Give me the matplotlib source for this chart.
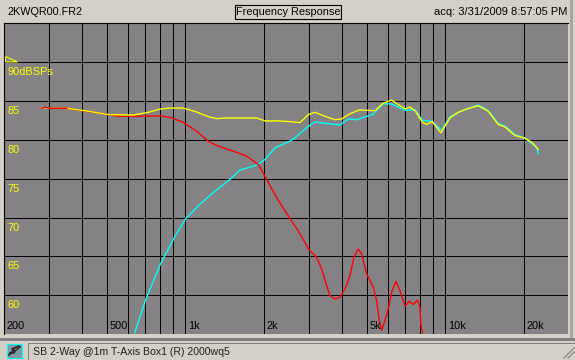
import matplotlib
matplotlib.use('Agg')
import matplotlib.pyplot as plt
from matplotlib.patches import Rectangle, Polygon

plt.rcParams['font.family'] = ['Liberation Sans', 'DejaVu Sans']

W, H = 575, 360

# curves: frequency (Hz), level (dB)
yellow_f = [281, 350, 417, 506, 631, 710, 799, 873, 982, 1106, 1226, 1320, 1442, 1881, 2025, 2279, 2527, 2761,
            2972, 3154, 3445, 3764, 3994, 4236, 4655, 5364, 5775, 6217, 6693, 7038, 7313, 7689, 8157, 8476, 8913,
            9623, 9970, 10420, 11220, 12080, 13400, 14640, 15990, 16960, 18530, 20250, 21480, 22790]
yellow_db = [84.06, 84.06, 83.72, 83.25, 83.2, 83.5, 83.97, 84.1, 84.1, 83.59, 82.99, 82.74, 82.82, 82.82, 82.44,
             82.44, 82.35, 82.22, 83.25, 83.55, 83.03, 82.6, 82.69, 83.25, 83.85, 83.76, 84.74, 85.13, 84.4, 83.97,
             84.23, 83.68, 82.26, 82.0, 82.35, 80.9, 81.75, 82.82, 83.55, 83.97, 84.4, 83.68, 81.97, 81.67, 80.56,
             80.21, 79.7, 78.76]

cyan_f = [639, 702, 799, 907, 1000, 1139, 1281, 1485, 1623, 1881, 2025, 2212, 2527, 2641, 2972, 3154, 3445, 3935,
          4236, 4560, 4909, 5239, 5775, 6217, 7038, 7644, 8157, 8858, 9680, 10420, 11220, 12080, 13400, 14640,
          15990, 16960, 18530, 20250, 22500, 22790]
cyan_db = [55.17, 59.32, 63.89, 67.44, 69.79, 71.71, 73.21, 74.91, 76.11, 76.75, 77.48, 78.97, 79.83, 80.26, 81.75,
           82.31, 82.14, 81.92, 82.69, 82.6, 82.95, 83.25, 84.66, 84.62, 83.8, 83.89, 82.52, 82.39, 81.24, 82.95,
           83.55, 83.97, 84.49, 83.76, 82.09, 81.75, 80.68, 80.21, 79.06, 78.25]

red_f = [281, 289, 302, 350, 393, 443, 506, 557, 799, 873, 982, 1106, 1226, 1320, 1530, 1721, 1909, 2055, 2246,
         2417, 2720, 2989, 3200, 3345, 3496, 3601, 3764, 3935, 4113, 4298, 4453, 4628, 4767, 4983, 5287, 5443, 5557,
         5689, 5860, 6036, 6217, 6461, 6693, 6997, 7270, 7534, 7825, 7990, 8060, 8180]
red_db = [84.06, 84.19, 84.06, 84.06, 83.8, 83.55, 83.25, 83.03, 83.08, 82.91, 82.26, 81.11, 79.83, 79.27, 78.55,
          77.91, 76.84, 74.91, 72.56, 70.85, 68.29, 65.85, 64.87, 63.38, 61.24, 59.96, 59.49, 59.74, 60.81, 62.52,
          64.87, 65.94, 65.3, 62.74, 61.03, 59.32, 56.97, 55.47, 56.75, 58.25, 60.38, 61.79, 60.6, 58.59, 59.23,
          58.8, 59.36, 58.46, 56.11, 55.17]

grid_freqs = [300, 400, 500, 600, 700, 800, 900, 1000, 2000, 3000, 4000, 5000, 6000, 7000, 8000, 9000, 10000, 20000]
db_levels = [60, 65, 70, 75, 80, 85, 90]
db_labels = ['60', '65', '70', '75', '80', '85', '90dBSPs']
freq_ticks = [200, 500, 1000, 2000, 5000, 10000, 20000]
freq_labels = ['200', '500', '1k', '2k', '5k', '10k', '20k']

BG = '#d4d0c8'
PLOT_BG = '#848284'
GRID_LW = 0.72
CURVE_LW = 1.0

fig = plt.figure(figsize=(W / 100, H / 100), dpi=100, facecolor=BG)

# window chrome, in pixel coordinates
chrome = fig.add_axes([0, 0, 1, 1])
chrome.set_xlim(0, W)
chrome.set_ylim(H, 0)
chrome.axis('off')
chrome.add_patch(Rectangle((570, 0), 3, 338, fc='#a8a6a0', ec='none'))
chrome.add_patch(Rectangle((0, 338), W, 3, fc='#808080', ec='none'))
chrome.plot([28, 574], [343, 343], color='#808080', lw=0.72)
chrome.plot([28, 28], [343, 360], color='#808080', lw=0.72)
chrome.add_patch(Rectangle((6.5, 343.5), 15, 14, fc='#7f9aa0', ec='#00ffff', lw=0.8))
chrome.plot([9, 14, 12, 19], [355, 350, 349, 346], color='#202020', lw=1.2)
chrome.plot([10, 14, 15, 20], [353, 353, 351, 347], color='#202020', lw=1.0)
chrome.plot([564, 574], [358, 348], color='#808080', lw=0.8)
chrome.plot([568, 574], [358, 352], color='#808080', lw=0.8)

chrome.text(7, 12, '2KWQR00.FR2', fontsize=7.8, color='black', va='center', ha='left')
chrome.add_patch(Rectangle((234.5, 4.5), 106, 14, fc=BG, ec='black', lw=0.8))
chrome.text(288, 12, 'Frequency Response', fontsize=7.9, color='black', va='center', ha='center')
chrome.text(567, 12, 'acq: 3/31/2009 8:57:05 PM', fontsize=8.0, color='black', va='center', ha='right')
chrome.text(33, 352, 'SB 2-Way @1m T-Axis Box1 (R) 2000wq5', fontsize=7.6, color='#202020', va='center', ha='left')

# plot area
left, right, top, bottom = 3.6, 568.0, 23.4, 334.0
ax = fig.add_axes([left / W, 1 - bottom / H, (right - left) / W, (bottom - top) / H], zorder=2)
ax.set_facecolor(PLOT_BG)
ax.set_xscale('log')
ax.set_xlim(200, 29650)
ax.set_ylim(55, 95)
ax.set_xticks([])
ax.set_yticks([])
ax.minorticks_off()
ax.tick_params(which='both', length=0, labelbottom=False, labelleft=False)
for s in ['right', 'bottom']:
    ax.spines[s].set_visible(False)
for s in ['left', 'top']:
    ax.spines[s].set_linewidth(0.8)

for f in grid_freqs:
    ax.axvline(f, color='black', lw=GRID_LW, zorder=1)
for d in db_levels:
    ax.axhline(d, color='black', lw=GRID_LW, zorder=1)

ax.plot(cyan_f, cyan_db, color='#00ffff', lw=CURVE_LW, zorder=3)
ax.plot(red_f, red_db, color='#ff0000', lw=CURVE_LW, zorder=4)
ax.plot(yellow_f, yellow_db, color='#ffff00', lw=CURVE_LW, zorder=5)
# red shows over the yellow at the low end
ax.plot(red_f[:4], red_db[:4], color='#ff0000', lw=CURVE_LW, zorder=6)

# axis labels sit inside the plot
trans_y = ax.get_yaxis_transform()
trans_x = ax.get_xaxis_transform()
for d, lab in zip(db_levels, db_labels):
    ax.text(0.0066, d - 1.3, lab, transform=trans_y, color='#ffff00', fontsize=7.9, va='center', ha='left', zorder=7)
for f, lab in zip(freq_ticks, freq_labels):
    ax.annotate(lab, (f, 0.0), xycoords=trans_x, xytext=(3, 8), textcoords='offset pixels',
                color='black', fontsize=7.9, va='center', ha='left', zorder=7)

# reference level marker
ax.add_patch(Polygon([(5.5, 56.5), (5.5, 62.0), (17.5, 62.0)], closed=True, fill=False, ec='#ffff00', lw=0.8,
                     transform=chrome.transData, zorder=6, clip_on=False))

fig.savefig('out.png', dpi=100, facecolor=BG)
